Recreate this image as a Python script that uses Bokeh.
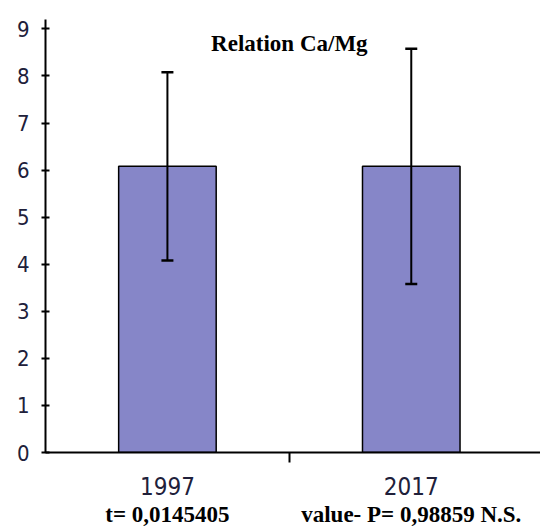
import numpy as np
from bokeh.plotting import figure
from bokeh.models import (ColumnDataSource, Whisker, TeeHead, LinearAxis,
                          FixedTicker, Range1d, Label)
from bokeh.embed import file_html
from bokeh.resources import INLINE

# ---- data ----
years = ["1997", "2017"]
means = [6.08, 6.08]
sds = [2.0, 2.5]
stats = ["t= 0,0145405", "value- P= 0,98859 N.S."]
title_text = "Relation Ca/Mg"
y_ticks = list(range(0, 10))

NARROW = "'Liberation Sans Narrow', 'DejaVu Sans Condensed', sans-serif"
SERIF = "'Liberation Serif', serif"

pos = np.arange(len(years)) + 0.5
boundaries = list(pos[:-1] + 0.5)
lower = np.array(means) - np.array(sds)
upper = np.array(means) + np.array(sds)
src = ColumnDataSource(dict(x=pos, top=means, lower=lower, upper=upper))

p = figure(width=540, height=532,
           x_range=Range1d(0, 2.03), y_range=Range1d(0, 9.2),
           output_backend="svg", toolbar_location=None,
           x_axis_location=None, y_axis_location=None,
           min_border_left=45, min_border_right=0,
           min_border_top=19, min_border_bottom=80)
p.outline_line_color = None
p.background_fill_color = "white"
p.border_fill_color = "white"

# bars
p.vbar(x="x", top="top", bottom=0, width=0.4, source=src,
       fill_color="#8686C8", line_color="black", line_width=1.5)

# error bars
head_u = TeeHead(size=12, line_width=2.5, line_color="black")
head_l = TeeHead(size=12, line_width=2.5, line_color="black")
p.add_layout(Whisker(source=src, base="x", upper="upper", lower="lower",
                     line_width=2, line_color="black",
                     upper_head=head_u, lower_head=head_l, level="overlay"))

# y axis
yax = LinearAxis(ticker=FixedTicker(ticks=y_ticks))
yax.axis_line_width = 2
yax.axis_line_color = "black"
yax.major_tick_in = 4
yax.major_tick_out = 4
yax.major_tick_line_width = 2
yax.minor_tick_line_color = None
yax.major_label_standoff = 12
yax.major_label_text_font = NARROW
yax.major_label_text_font_size = "22px"
yax.major_label_text_color = "#20203a"
p.add_layout(yax, "left")

# x axis with category labels and a tick between categories
xax = LinearAxis(ticker=FixedTicker(ticks=list(pos), minor_ticks=boundaries))
xax.major_label_overrides = {float(x): y for x, y in zip(pos, years)}
xax.axis_line_width = 2
xax.axis_line_color = "black"
xax.major_tick_in = 0
xax.major_tick_out = 0
xax.minor_tick_in = 0
xax.minor_tick_out = 10
xax.minor_tick_line_width = 2
xax.minor_tick_line_color = "black"
xax.major_label_standoff = 14
xax.major_label_text_font = NARROW
xax.major_label_text_font_size = "24px"
xax.major_label_text_color = "#20203a"
p.add_layout(xax, "below")

# statistics line under the categories
sax = LinearAxis(ticker=FixedTicker(ticks=list(pos)))
sax.major_label_overrides = {float(x): s for x, s in zip(pos, stats)}
sax.axis_line_color = None
sax.major_tick_line_color = None
sax.minor_tick_line_color = None
sax.major_tick_out = 0
sax.major_tick_in = 0
sax.major_label_standoff = 4
sax.major_label_text_font = SERIF
sax.major_label_text_font_style = "bold"
sax.major_label_text_font_size = "23px"
sax.major_label_text_color = "black"
p.add_layout(sax, "below")

# title inside the plot area
p.add_layout(Label(x=len(years) / 2, y=8.7, text=title_text,
                   text_align="center", text_baseline="middle",
                   text_font=SERIF, text_font_style="bold",
                   text_font_size="23px", text_color="black"))

for r in list(p.center):
    if r.__class__.__name__ == "Grid":
        r.visible = False

open("out.html", "w").write(file_html(p, INLINE))
